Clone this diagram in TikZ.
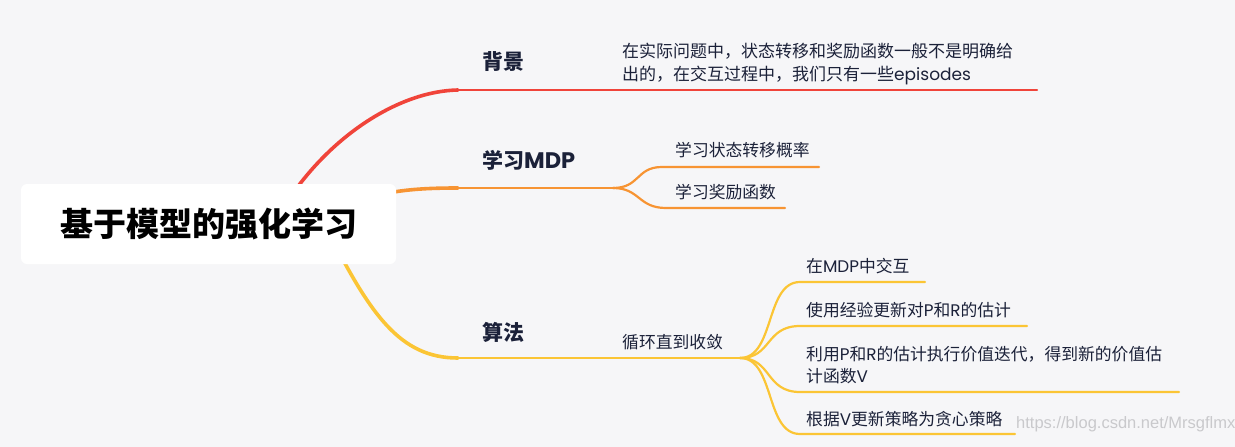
\documentclass[tikz,border=0pt]{standalone}
\usepackage{fontspec}
\setmainfont{Noto Sans CJK SC}
\newfontfamily\lat{Poppins}
\newfontfamily\wmfont{Liberation Sans}
\newcommand\Ltn[1]{{\lat #1}}
\definecolor{bg}{HTML}{F6F6F8}
\definecolor{ink}{HTML}{1B2139}
\definecolor{cred}{HTML}{F0443A}
\definecolor{corange}{HTML}{F79433}
\definecolor{cyellow}{HTML}{FBC535}
\definecolor{wm}{HTML}{C9C9CC}
\begin{document}
\begin{tikzpicture}[x=1pt,y=-1pt,
  txt/.style={anchor=west, inner sep=0pt, text=ink, font=\fontsize{16.8}{22}\selectfont},
  branch/.style={anchor=west, inner sep=0pt, text=ink, font=\fontsize{21}{25}\selectfont\bfseries},
  mainc/.style={line width=3.6pt, line cap=round},
  sub/.style={line width=2.2pt, line cap=round},
]
\fill[bg] (0,0) rectangle (1235,447);
\useasboundingbox (0,0) rectangle (1235,447);

% anchor coordinates
\coordinate (r1) at (285,205);
\coordinate (r2) at (330,212);
\coordinate (r3) at (325,225);
\coordinate (e1) at (458,90);
\coordinate (f1) at (1037,90);
\coordinate (e2) at (458,188);
\coordinate (s2) at (613,188);
\coordinate (g1) at (662,167);
\coordinate (h1) at (819,167);
\coordinate (g2) at (666,208);
\coordinate (h2) at (785,208);
\coordinate (e3) at (458,358);
\coordinate (s3) at (740,358);
\coordinate (k1) at (800,282);
\coordinate (m1) at (925,282);
\coordinate (k2) at (800,326);
\coordinate (m2) at (1027,326);
\coordinate (k3) at (800,392);
\coordinate (m3) at (1179,392);
\coordinate (k4) at (800,434);
\coordinate (m4) at (1015,434);

% red branch
\draw[mainc, cred] (r1) .. controls (330,135) and (400,91) .. (e1);
\draw[sub, cred] (e1) -- (f1);
% orange branch
\draw[mainc, corange] (r2) .. controls (375,192) and (405,188) .. (e2);
\draw[sub, corange] (e2) -- (s2);
\draw[sub, corange] (s2) .. controls (640,188) and (636,167) .. (g1) -- (h1);
\draw[sub, corange] (s2) .. controls (640,188) and (638,208) .. (g2) -- (h2);
% yellow branch
\draw[mainc, cyellow] (r3) .. controls (370,315) and (400,358) .. (e3);
\draw[sub, cyellow] (e3) -- (s3);
\draw[sub, cyellow] (s3) .. controls (775,358) and (765,282) .. (k1) -- (m1);
\draw[sub, cyellow] (s3) .. controls (772,358) and (765,326) .. (k2) -- (m2);
\draw[sub, cyellow] (s3) .. controls (772,358) and (765,392) .. (k3) -- (m3);
\draw[sub, cyellow] (s3) .. controls (775,358) and (765,434) .. (k4) -- (m4);

% root
\node[fill=white, rounded corners=6pt, minimum width=375pt, minimum height=80pt, inner sep=0pt,
      font=\fontsize{33}{36}\selectfont\bfseries, text=black] (root) at (208.5,224) {基于模型的强化学习};

% branch labels
\node[branch] (b1) at (482,62) {背景};
\node[branch] (b2) at (482,160) {学习{\lat\fontsize{22.5}{25}\selectfont MDP}};
\node[branch] (b3) at (482,332) {算法};

% leaves
\node[txt, font=\fontsize{17}{23}\selectfont, align=left] (d1) at (622,64)
  {在实际问题中，状态转移和奖励函数一般不是明确给\\出的，在交互过程中，我们只有一些\Ltn{episodes}};
\node[txt] (l1) at (675,150.5) {学习状态转移概率};
\node[txt] (l2) at (675,192) {学习奖励函数};
\node[txt] (c0) at (622,342) {循环直到收敛};
\node[txt] (a1) at (806,266) {在\Ltn{MDP}中交互};
\node[txt] (a2) at (806,310) {使用经验更新对\Ltn{P}和\Ltn{R}的估计};
\node[txt, align=left] (a3) at (806,365)
  {利用\Ltn{P}和\Ltn{R}的估计执行价值迭代，得到新的价值估\\计函数\Ltn{V}};
\node[txt] (a4) at (806,419) {根据\Ltn{V}更新策略为贪心策略};

% watermark
\node[anchor=west, inner sep=0pt, text=wm, font=\wmfont\fontsize{16.5}{18}\selectfont] (wmk) at (1016,424) {https://blog.csdn.net/Mrsgflmx};
\end{tikzpicture}
\end{document}
